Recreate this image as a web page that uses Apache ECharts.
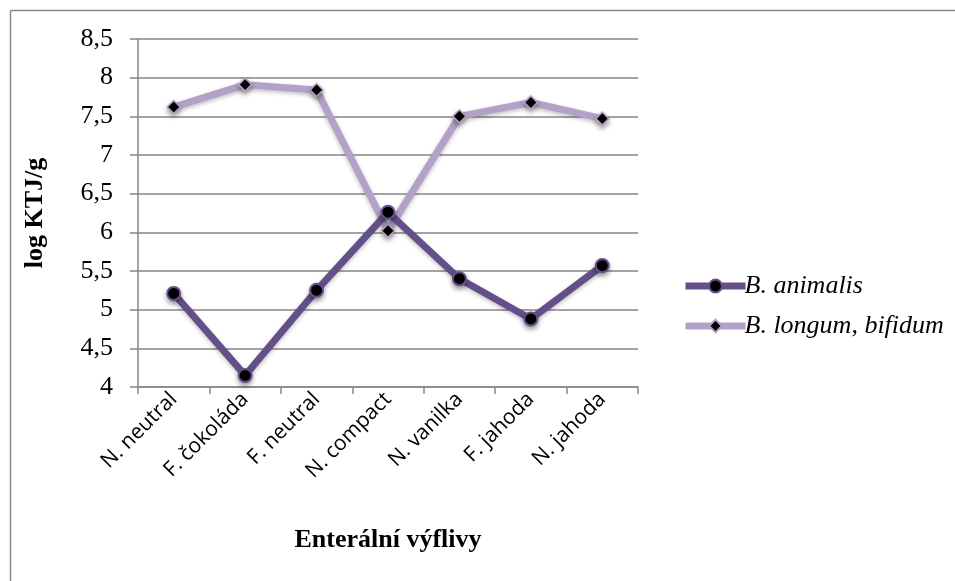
<!DOCTYPE html>
<html>
<head>
<meta charset="utf-8">
<script src="https://cdn.jsdelivr.net/npm/echarts@6/dist/echarts.min.js"></script>
<style>html,body{margin:0;padding:0;background:#fff;}#c{width:955px;height:581px;}</style>
</head>
<body>
<div id="c"></div>
<script>
const categories = ['N. neutral', 'F. čokoláda', 'F. neutral', 'N. compact', 'N. vanilka', 'F. jahoda', 'N. jahoda'];
const animalis = [5.21, 4.15, 5.25, 6.26, 5.40, 4.88, 5.57];
const longum = [7.62, 7.91, 7.84, 6.02, 7.50, 7.68, 7.47];
const seriesNames = ['B. animalis', 'B. longum, bifidum'];
const yTicks = {min: 4, max: 8.5, interval: 0.5};

const chart = echarts.init(document.getElementById('c'), null, {renderer: 'canvas'});
const serif = '"Liberation Serif", "DejaVu Serif", serif';
chart.setOption({
  backgroundColor: '#fff',
  animation: false,
  grid: {left: 138, top: 39, width: 500, height: 348, containLabel: false},
  legend: {
    orient: 'vertical', left: 677, top: 268, itemGap: 14,
    itemWidth: 60, itemHeight: 16,
    lineStyle: {width: 7},
    textStyle: {fontFamily: serif, fontStyle: 'italic', fontSize: 26, color: '#000', padding: [0,0,0,-6]},
    data: seriesNames
  },
  xAxis: {
    type: 'category', data: categories, boundaryGap: true,
    name: 'Enterální výflivy', nameLocation: 'middle', nameGap: 140,
    nameTextStyle: {fontFamily: serif, fontWeight: 'bold', fontSize: 26, color: '#000'},
    axisLine: {lineStyle: {color: '#868686', width: 1.5}},
    axisTick: {show: true, interval: 0, length: 7, lineStyle: {color: '#868686', width: 1.5}},
    axisLabel: {interval: 0, rotate: 45, fontFamily: '"Open Sans", "Noto Sans", sans-serif', fontSize: 21, color: '#000', margin: 9}
  },
  yAxis: {
    type: 'value', min: yTicks.min, max: yTicks.max, interval: yTicks.interval,
    name: 'log KTJ/g', nameLocation: 'middle', nameGap: 90, nameRotate: 90,
    nameTextStyle: {fontFamily: serif, fontWeight: 'bold', fontSize: 26, color: '#000'},
    axisLine: {show: true, lineStyle: {color: '#868686', width: 1.5}},
    axisTick: {show: true, length: 8, lineStyle: {color: '#868686', width: 1.5}},
    splitLine: {lineStyle: {color: '#868686', width: 1.5}},
    axisLabel: {fontFamily: serif, fontSize: 26, color: '#000', margin: 25,
      formatter: v => String(v).replace('.', ',')}
  },
  series: [
    {
      name: seriesNames[0], type: 'line', data: animalis,
      symbol: 'circle', symbolSize: 13,
      lineStyle: {color: '#654F88', width: 7, shadowColor: 'rgba(0,0,0,0.25)', shadowBlur: 4, shadowOffsetY: 2},
      itemStyle: {color: '#000', borderColor: '#654F88', borderWidth: 2, shadowColor: 'rgba(0,0,0,0.35)', shadowBlur: 5, shadowOffsetY: 3},
      z: 3
    },
    {
      name: seriesNames[1], type: 'line', data: longum,
      symbol: 'diamond', symbolSize: 13,
      lineStyle: {color: '#B3A2C7', width: 7, shadowColor: 'rgba(0,0,0,0.25)', shadowBlur: 4, shadowOffsetY: 2},
      itemStyle: {color: '#000', borderColor: '#B3A2C7', borderWidth: 1.5, shadowColor: 'rgba(0,0,0,0.35)', shadowBlur: 5, shadowOffsetY: 3},
      z: 2
    }
  ],
  graphic: [
    {type: 'line', shape: {x1: 10.5, y1: 10.5, x2: 955, y2: 10.5}, style: {stroke: '#8a8a8a', lineWidth: 1.5}},
    {type: 'line', shape: {x1: 10.5, y1: 10.5, x2: 10.5, y2: 581}, style: {stroke: '#8a8a8a', lineWidth: 1.5}}
  ]
});
</script>
</body>
</html>
